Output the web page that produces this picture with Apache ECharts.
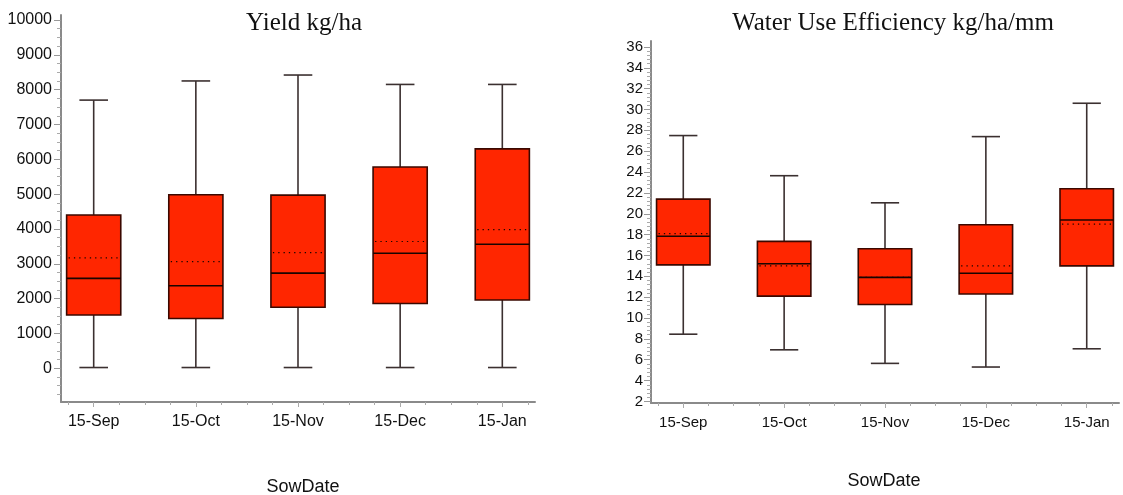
<!DOCTYPE html>
<html>
<head>
<meta charset="utf-8">
<script src="https://cdn.jsdelivr.net/npm/echarts@6/dist/echarts.min.js"></script>
<style>
html,body{margin:0;padding:0;background:#fff;}
#chart{width:1123px;height:495px;}
</style>
</head>
<body>
<div id="chart"></div>
<script>
const categories = ['15-Sep', '15-Oct', '15-Nov', '15-Dec', '15-Jan'];

// Yield kg/ha
const yieldMin    = [20, 20, 20, 20, 20];
const yieldQ1     = [1530, 1430, 1750, 1860, 1960];
const yieldMedian = [2580, 2370, 2730, 3300, 3560];
const yieldQ3     = [4400, 4980, 4970, 5780, 6300];
const yieldMax    = [7700, 8250, 8420, 8150, 8150];
const yieldMean   = [3170, 3060, 3320, 3640, 3980];

// Water Use Efficiency kg/ha/mm
const wueMin    = [8.45, 6.95, 5.65, 5.3, 7.05];
const wueQ1     = [15.1, 12.1, 11.3, 12.3, 15.0];
const wueMedian = [17.85, 15.2, 13.9, 14.3, 19.4];
const wueQ3     = [21.4, 17.35, 16.65, 18.95, 22.4];
const wueMax    = [27.5, 23.65, 21.05, 27.4, 30.6];
const wueMean   = [18.1, 15.0, 13.9, 15.0, 19.0];

const yieldTicks = [0, 1000, 2000, 3000, 4000, 5000, 6000, 7000, 8000, 9000, 10000];
const wueTicks = [2, 4, 6, 8, 10, 12, 14, 16, 18, 20, 22, 24, 26, 28, 30, 32, 34, 36];

function buildData(mn, q1, md, q3, mx, mean) {
  return categories.map((c, i) => [i + 1, mn[i], q1[i], md[i], q3[i], mx[i], mean[i]]);
}

function minorValues(lo, hi, step, majorStep) {
  const out = [];
  const n = Math.round((hi - lo) / step);
  for (let k = 0; k <= n; k++) {
    const v = +(lo + k * step).toFixed(6);
    if (Math.abs(v / majorStep - Math.round(v / majorStep)) > 1e-6) out.push(v);
  }
  return out;
}

const BOX_W = 0.53, CAP_W = 0.28;
const FILL = '#FF2600', EDGE = '#3a0800', WHISK = '#3b3030';

function renderBox(params, api) {
  const x = api.value(0);
  const mn = api.coord([x, api.value(1)]);
  const q1 = api.coord([x, api.value(2)]);
  const md = api.coord([x, api.value(3)]);
  const q3 = api.coord([x, api.value(4)]);
  const mx = api.coord([x, api.value(5)]);
  const me = api.coord([x, api.value(6)]);
  const bw = api.size([BOX_W, 0])[0];
  const cw = api.size([CAP_W, 0])[0];
  const cx = mn[0];
  const line = (x1, y1, x2, y2, style) => ({ type: 'line', shape: { x1, y1, x2, y2 }, style });
  const ws = { stroke: WHISK, lineWidth: 1.6 };
  return {
    type: 'group',
    children: [
      line(cx, mx[1], cx, q3[1], ws),
      line(cx, q1[1], cx, mn[1], ws),
      line(cx - cw / 2, mx[1], cx + cw / 2, mx[1], ws),
      line(cx - cw / 2, mn[1], cx + cw / 2, mn[1], ws),
      { type: 'rect', shape: { x: cx - bw / 2, y: q3[1], width: bw, height: q1[1] - q3[1] },
        style: { fill: FILL, stroke: EDGE, lineWidth: 1.6 } },
      line(cx - bw / 2, md[1], cx + bw / 2, md[1], { stroke: '#1a0500', lineWidth: 1.6 }),
      line(cx - bw / 2 + 2, me[1], cx + bw / 2, me[1], { stroke: '#1a0500', lineWidth: 1.2, lineDash: [1.3, 4] })
    ]
  };
}

const AXIS_C = '#8a8a8a';
const xMin = 0.68, xMax = 5.32;

function xAxesFor(gridIndex, fontSize) {
  return [
    {
      type: 'value', gridIndex, min: xMin, max: xMax, position: 'bottom',
      axisLine: { show: true, onZero: false, lineStyle: { color: AXIS_C, width: 2 } },
      axisTick: { show: true, customValues: [1, 2, 3, 4, 5], length: 5, lineStyle: { color: '#aaa', width: 1 } },
      axisLabel: { show: true, customValues: [1, 2, 3, 4, 5], margin: 12, color: '#111', fontSize,
        fontFamily: 'Liberation Sans, Arial, sans-serif', formatter: v => categories[Math.round(v) - 1] },
      splitLine: { show: false }
    },
    {
      type: 'value', gridIndex, min: xMin, max: xMax, position: 'bottom',
      axisLine: { show: false, onZero: false },
      axisTick: { show: true, customValues: minorValues(0.75, 5.25, 0.25, 1), length: 3, lineStyle: { color: '#aaa', width: 1 } },
      axisLabel: { show: false },
      splitLine: { show: false }
    }
  ];
}

function yAxesFor(gridIndex, min, max, ticks, minorStep, fontSize, margin) {
  const major = ticks[1] - ticks[0];
  return [
    {
      type: 'value', gridIndex, min, max, position: 'left',
      axisLine: { show: true, onZero: false, lineStyle: { color: AXIS_C, width: 2 } },
      axisTick: { show: true, customValues: ticks, length: 7, lineStyle: { color: '#999', width: 1 } },
      axisLabel: { show: true, customValues: ticks, margin, color: '#111', fontSize,
        fontFamily: 'Liberation Sans, Arial, sans-serif', formatter: v => String(v) },
      splitLine: { show: false }
    },
    {
      type: 'value', gridIndex, min, max, position: 'left',
      axisLine: { show: false, onZero: false },
      axisTick: { show: true, customValues: minorValues(Math.ceil(min / minorStep) * minorStep, ticks[ticks.length - 1], minorStep, major), length: 4, lineStyle: { color: '#aaa', width: 1 } },
      axisLabel: { show: false },
      splitLine: { show: false }
    }
  ];
}

const chart = echarts.init(document.getElementById('chart'), null, { renderer: 'canvas' });

const serif = '25px "Liberation Serif", "Times New Roman", serif';
const sans = '18px "Liberation Sans", Arial, sans-serif';

chart.setOption({
  animation: false,
  backgroundColor: '#fff',
  grid: [
    { left: 61, right: 588, top: 15, bottom: 93 },
    { left: 651, right: 4, top: 41, bottom: 92 }
  ],
  xAxis: [...xAxesFor(0, 16), ...xAxesFor(1, 15)],
  yAxis: [
    ...yAxesFor(0, -970, 10144, yieldTicks, 250, 16, 9),
    ...yAxesFor(1, 1.85, 36.57, wueTicks, 0.4, 15, 8)
  ],
  series: [
    { type: 'custom', name: 'Yield kg/ha', xAxisIndex: 0, yAxisIndex: 0, renderItem: renderBox,
      data: buildData(yieldMin, yieldQ1, yieldMedian, yieldQ3, yieldMax, yieldMean) },
    { type: 'custom', name: 'Water Use Efficiency kg/ha/mm', xAxisIndex: 2, yAxisIndex: 2, renderItem: renderBox,
      data: buildData(wueMin, wueQ1, wueMedian, wueQ3, wueMax, wueMean) }
  ],
  graphic: [
    { type: 'text', x: 304, y: 11, style: { text: 'Yield kg/ha', align: 'center', verticalAlign: 'top', font: serif, fill: '#111' } },
    { type: 'text', x: 893, y: 11, style: { text: 'Water Use Efficiency kg/ha/mm', align: 'center', verticalAlign: 'top', font: serif, fill: '#111' } },
    { type: 'text', x: 303, y: 478, style: { text: 'SowDate', align: 'center', verticalAlign: 'top', font: sans, fill: '#111' } },
    { type: 'text', x: 884, y: 472, style: { text: 'SowDate', align: 'center', verticalAlign: 'top', font: sans, fill: '#111' } }
  ]
});
</script>
</body>
</html>
